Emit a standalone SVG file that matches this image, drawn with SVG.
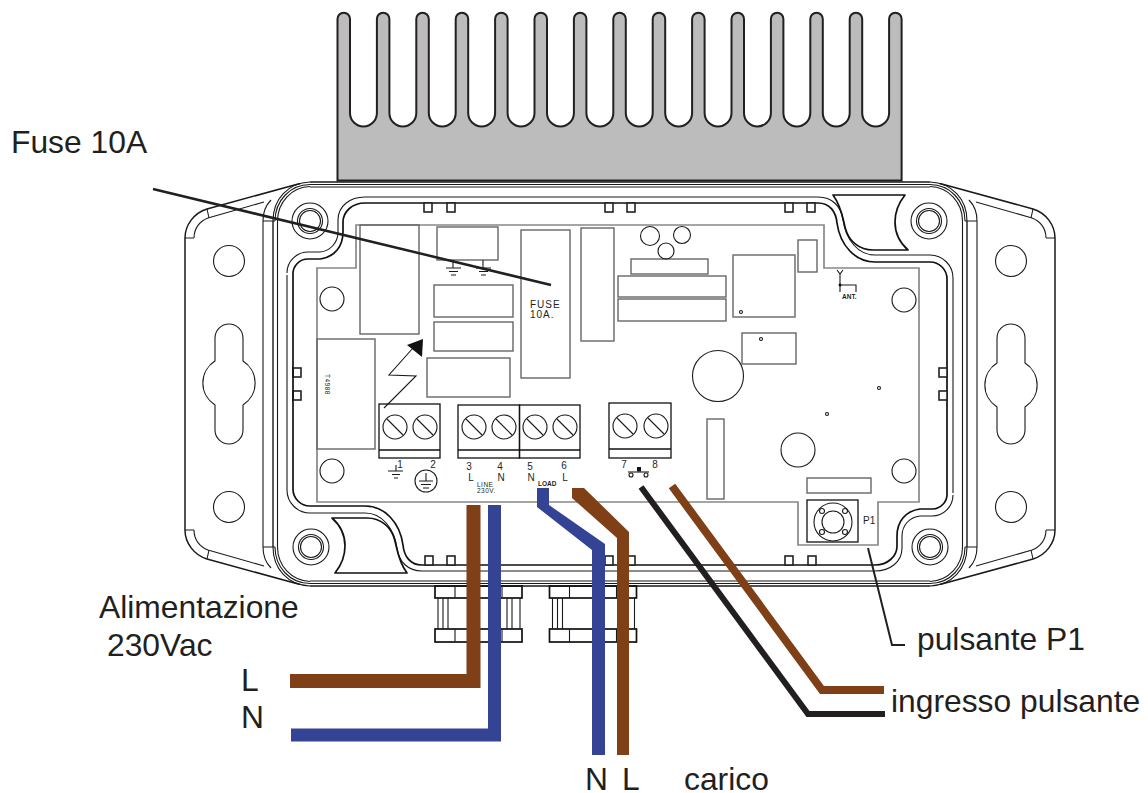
<svg xmlns="http://www.w3.org/2000/svg" xmlns:xlink="http://www.w3.org/1999/xlink" width="1148" height="793" viewBox="0 0 1148 793">
<style>
.l{fill:none;stroke:#1a1a1a;stroke-width:1.1}
.k{fill:none;stroke:#111;stroke-width:1.7}
.g{fill:none;stroke:#666;stroke-width:1.4}
.p{fill:none;stroke:#888;stroke-width:1.7}
.f{fill:#fff;stroke:#222;stroke-width:1.6}
text{font-family:"Liberation Sans",Arial,sans-serif;fill:#231f20}
.b{font-size:31.8px}
.s{font-size:10px}
.x{font-size:6.5px;font-weight:bold}
.y{font-size:6.5px;letter-spacing:.5px}
</style>
<defs>
<g id="screw"><circle class="l" r="12"/><path class="l" d="M-8 -8L8 8"/></g>
<g id="hole" class="l"><circle r="18"/><circle r="12.500"/><circle r="10.500"/></g>
<g id="side">
<path class="l" style="stroke-width:1.500" d="M300 183.500L207 209C194 213 185 225 185 238V530C185 543 194 555 207 559L300 584.500"/>
<path class="l" d="M194 238C194 228 200 221 208 218L264 202M194 530C194 540 200 547 208 550L264 566M185 238H194M185 530H194M207 209L209 218M207 559L209 550"/>
<path class="l" d="M263 221C263 212 266 205 271 200M263 547C263 556 266 563 271 568M263 221V547"/>
<path class="l" d="M263 221H275M263 547H275"/>
<path class="l" style="stroke-width:1.400" d="M273 221V547"/>
<path class="l" d="M277.500 221V547M310 182C288 183 273 199 273 221M310 186.500C292 187 277.500 202 277.500 221M310 586C288 585 273 569 273 547M310 581.500C292 581 277.500 566 277.500 547M275 221C275 201 290 184.500 310 184.500M275 547C275 567 290 583.500 310 583.500"/>
<path class="k" d="M293 275A15 15 0 0 1 308 259H320C335 257 343 246 343 232V222C343 212 352 203 365 203H818C830 203 836 212 837 223C840 245 855 262 875 262H930A17 17 0 0 1 947 279V493"/>
<path class="l" d="M287 273A21 21 0 0 1 308 252H320C330 251 338 243 338 232V220C338 206 350 197 365 197H818C832 197 841 206 843 220C846 240 858 255 875 255H930A23 23 0 0 1 953 278V493"/>
<path class="k" stroke-linejoin="round" d="M833 195H905C897 205 895 213 895 222C895 233 900 243 908 250H873C858 250 850 240 847 233C843 225 844 210 833 195Z"/>
<use xlink:href="#hole" href="#hole" x="310" y="221"/>
<use xlink:href="#hole" href="#hole" x="929" y="221"/>
<circle class="l" cx="229" cy="261" r="15.500"/><circle class="l" cx="229" cy="507" r="15.500"/>
<path class="l" d="M215 338a14 14 0 0 1 28 0V361A26 26 0 0 1 243 405V430a14 14 0 0 1 -28 0V405A26 26 0 0 1 215 361Z"/>
<g class="f"><rect x="293" y="368" width="8" height="9"/><rect x="293" y="391" width="8" height="9"/><rect x="424" y="203" width="8" height="9"/><rect x="447" y="203" width="8" height="9"/><rect x="605" y="203" width="8" height="9"/><rect x="627" y="203" width="8" height="9"/><rect x="785" y="203" width="8" height="9"/><rect x="807" y="203" width="8" height="9"/></g>
</g>
<g id="gland">
<rect class="k" x="435" y="586" width="87" height="12"/>
<rect class="k" x="435" y="629" width="87" height="13"/>
<path class="l" d="M438 598V629M443 598V629M448 598V629M507 598V629M512 598V629M520 598V629M455 586V598M455 629V642M502 586V598M502 629V642"/>
</g>
</defs>

<g id="heatsink">
<path fill="#bcbcbc" stroke="#231f20" stroke-width="2" d="M337.500 180.500
V19a6.250 6.250 0 0 1 12.500 0V113a13.450 13.450 0 0 0 26.900 0
V19a6.250 6.250 0 0 1 12.500 0V113a13.450 13.450 0 0 0 26.900 0
V19a6.250 6.250 0 0 1 12.500 0V113a13.450 13.450 0 0 0 26.900 0
V19a6.250 6.250 0 0 1 12.500 0V113a13.450 13.450 0 0 0 26.900 0
V19a6.250 6.250 0 0 1 12.500 0V113a13.450 13.450 0 0 0 26.900 0
V19a6.250 6.250 0 0 1 12.500 0V113a13.450 13.450 0 0 0 26.900 0
V19a6.250 6.250 0 0 1 12.500 0V113a13.450 13.450 0 0 0 26.900 0
V19a6.250 6.250 0 0 1 12.500 0V113a13.450 13.450 0 0 0 26.900 0
V19a6.250 6.250 0 0 1 12.500 0V113a13.450 13.450 0 0 0 26.900 0
V19a6.250 6.250 0 0 1 12.500 0V113a13.450 13.450 0 0 0 26.900 0
V19a6.250 6.250 0 0 1 12.500 0V113a13.450 13.450 0 0 0 26.900 0
V19a6.250 6.250 0 0 1 12.500 0V113a13.450 13.450 0 0 0 26.900 0
V19a6.250 6.250 0 0 1 12.500 0V113a13.450 13.450 0 0 0 26.900 0
V19a6.250 6.250 0 0 1 12.500 0V113a13.450 13.450 0 0 0 26.900 0
V19a6.250 6.250 0 0 1 12.500 0V180.500Z"/>
</g>

<g id="enclosure">
<use xlink:href="#side" href="#side"/>
<use xlink:href="#side" href="#side" transform="rotate(180 620 384)"/>
<path class="l" style="stroke-width:1.500" d="M310 182H930M310 586H930"/>
<path class="l" d="M310 184.500H930M310 583.500H930"/>
<path class="g" d="M310 187H930M310 581H930"/>
</g>

<g id="glands">
<use xlink:href="#gland" href="#gland"/>
<use xlink:href="#gland" href="#gland" transform="translate(114.500 0)"/>
</g>

<g id="pcb">
<path class="p" d="M317 268H356V225H824V268H919V502H878V545H798V502H317Z"/>
<circle class="l" cx="332" cy="299" r="12"/><circle class="l" cx="332" cy="471" r="12"/><circle class="l" cx="904" cy="300" r="12"/><circle class="l" cx="904" cy="471" r="12"/>
</g>

<g id="components">
<g class="g">
<rect x="360" y="225" width="59" height="109"/>
<rect x="437" y="227" width="61" height="33"/>
<rect x="434" y="285" width="79" height="32"/>
<rect x="434" y="322" width="79" height="29"/>
<rect x="427" y="358" width="83" height="39"/>
<rect x="521" y="230" width="49" height="148"/>
<rect x="581" y="228" width="33" height="113"/>
<rect x="631" y="259" width="77" height="15"/>
<rect x="618" y="276" width="108" height="21"/>
<rect x="618" y="299" width="108" height="22"/>
<rect x="733" y="255" width="62" height="62"/>
<rect x="798" y="240" width="19" height="32"/>
<rect x="742" y="333" width="54" height="31"/>
<rect x="707" y="419" width="17" height="80"/>
<rect x="807" y="478" width="64" height="15"/>
<rect x="317" y="339" width="58" height="110"/>
</g>
<path class="l" d="M453 260V268M446 268H461M449 271.500H458M451 275H456M483 260V268M476 268H491M479 271.500H488M481 275H486"/>
<path class="l" d="M384 408L416 376L389 375L413 348"/>
<path fill="#111" d="M423 339L407 345L422 357Z"/>
<g class="l">
<circle cx="650" cy="236" r="9.500"/><circle cx="682" cy="235" r="8.500"/><circle cx="666" cy="251" r="8"/>
<circle cx="718" cy="376" r="25.500"/><circle cx="798" cy="450" r="17"/>
<circle cx="741" cy="312" r="1.500"/><circle cx="761" cy="339" r="1.500"/><circle cx="879" cy="388" r="1.500"/><circle cx="827" cy="414" r="1.500"/>
<path d="M837 270L840 274L843 270M840 274V292M840 285H856V292"/>
</g>
<circle cx="840" cy="285" r="1.500" fill="#111"/>
<text class="x" x="842" y="299">ANT.</text>
<text x="530" y="308" font-size="10" letter-spacing="1">FUSE</text>
<text x="530" y="318" font-size="10" letter-spacing="1">10A.</text>
<text class="y" transform="translate(325 374) rotate(90)">T4988</text>
</g>

<g id="terminals">
<g class="k" style="stroke-width:1.300">
<rect x="379" y="404" width="61" height="54"/><path d="M379 450H440"/>
<rect x="458" y="405" width="61.500" height="53"/><path d="M458 450H519.500"/>
<rect x="519.500" y="405" width="60.500" height="53"/><path d="M519.500 450H580"/>
<rect x="609" y="403" width="62" height="55"/><path d="M609 449H671"/>
</g>
<use xlink:href="#screw" href="#screw" x="395" y="427"/><use xlink:href="#screw" href="#screw" x="425" y="427"/>
<use xlink:href="#screw" href="#screw" x="474" y="427"/><use xlink:href="#screw" href="#screw" x="504" y="427"/>
<use xlink:href="#screw" href="#screw" x="535" y="427"/><use xlink:href="#screw" href="#screw" x="565" y="427"/>
<use xlink:href="#screw" href="#screw" x="625" y="426"/><use xlink:href="#screw" href="#screw" x="656" y="426"/>
<g class="s">
<text x="400" y="468" text-anchor="middle">1</text><text x="433" y="468" text-anchor="middle">2</text>
<text x="469" y="470" text-anchor="middle">3</text><text x="500" y="470" text-anchor="middle">4</text>
<text x="530" y="470" text-anchor="middle">5</text><text x="564" y="469" text-anchor="middle">6</text>
<text x="471" y="481" text-anchor="middle">L</text><text x="501" y="481" text-anchor="middle">N</text>
<text x="531" y="481" text-anchor="middle">N</text><text x="565" y="481" text-anchor="middle">L</text>
<text x="624" y="468" text-anchor="middle">7</text><text x="655" y="468" text-anchor="middle">8</text>
<text x="863" y="524">P1</text>
</g>
<text class="y" x="477" y="487">LINE</text>
<text class="y" x="477" y="493">230V.</text>
<text class="x" x="538" y="486">LOAD</text>
<path class="l" d="M396 465V471M388 471H403M392 474.500H400M394 478H398"/>
<circle class="l" cx="426" cy="481" r="11"/>
<path class="l" d="M426 473V481M419 481H433M421 484.500H431M423 488H429"/>
<path class="l" d="M628 472H649"/>
<rect x="637" y="467" width="4" height="4.500" fill="#111"/>
<circle class="l" cx="631" cy="475" r="2"/><circle class="l" cx="646" cy="475" r="2"/>
</g>

<g id="push-button">
<rect class="k" x="807" y="500" width="51" height="42" style="stroke-width:1.300"/>
<g class="l"><circle cx="833" cy="522" r="19"/><circle cx="833" cy="522" r="11"/><circle cx="822" cy="511" r="2.500"/><circle cx="845" cy="511" r="2.500"/><circle cx="822" cy="532" r="2.500"/><circle cx="845" cy="532" r="2.500"/></g>
</g>

<g id="connectors">
<path fill="none" stroke="#7f3f17" stroke-width="14" d="M290 681H473.500V505"/>
<path fill="none" stroke="#354394" stroke-width="13" d="M291 735H494.500V505"/>
<path fill="#354394" d="M537 488H549V505L605 544V755H592V550L537 507Z"/>
<path fill="#7f3f17" d="M572 488H584L629 532V755H617V538L572 498Z"/>
<path fill="none" stroke="#231f20" stroke-width="6" d="M641 487L808 714H885"/>
<path fill="none" stroke="#7f3f17" stroke-width="8" d="M672 486L822 690H884"/>
<path fill="none" stroke="#231f20" stroke-width="2.500" d="M153 189L551 285"/>
<path fill="none" stroke="#231f20" stroke-width="2" d="M868 548L892 645H905"/>
</g>

<g id="labels">
<text class="b" x="11" y="153">Fuse 10A</text>
<text class="b" x="99" y="618">Alimentazione</text>
<text class="b" x="107" y="656">230Vac</text>
<text class="b" x="241" y="691">L</text>
<text class="b" x="241" y="728">N</text>
<text class="b" x="917" y="650">pulsante P1</text>
<text class="b" x="891" y="712">ingresso pulsante</text>
<text class="b" x="585" y="790">N</text>
<text class="b" x="622" y="790">L</text>
<text class="b" x="684" y="790">carico</text>
</g>
</svg>
